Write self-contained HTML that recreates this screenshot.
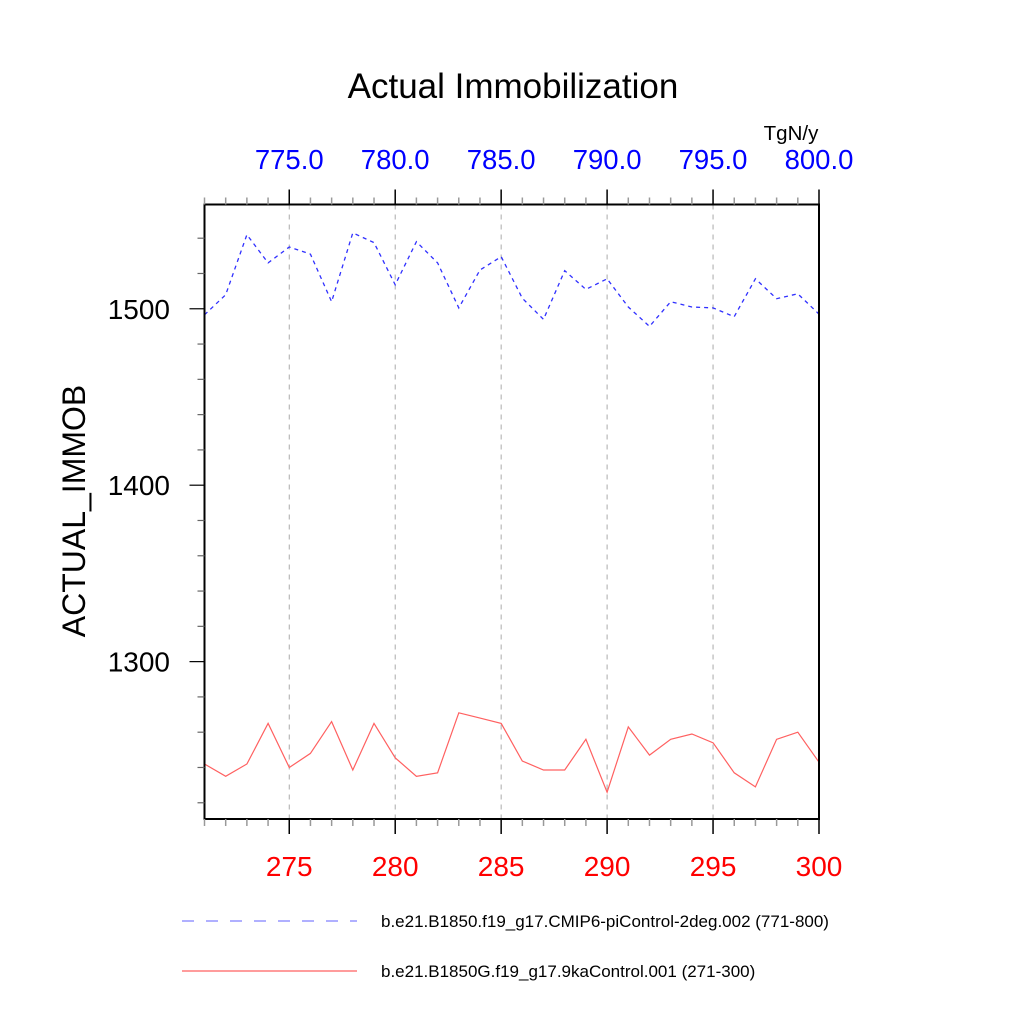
<!DOCTYPE html>
<html><head><meta charset="utf-8"><style>
html,body{margin:0;padding:0;background:#fff;}
svg{display:block;font-family:"Liberation Sans",sans-serif;}
</style></head><body>
<svg id="chart" width="1024" height="1024" viewBox="0 0 1024 1024">
<text x="513" y="98" text-anchor="middle" font-size="35">Actual Immobilization</text>
<text x="791" y="140" text-anchor="middle" font-size="20.5">TgN/y</text>
<text transform="translate(85,511) rotate(-90)" text-anchor="middle" font-size="32">ACTUAL_IMMOB</text>
<g id="grid"></g>
<g id="series"></g>
<rect x="204.5" y="204.5" width="614.5" height="614.5" fill="none" stroke="#000" stroke-width="2"/>
<g id="ticks"></g>
<g>
<line x1="182" y1="921" x2="357" y2="921" stroke="#8080ff" stroke-width="1.2" stroke-dasharray="12,12"/>
<text x="381" y="927" font-size="17">b.e21.B1850.f19_g17.CMIP6-piControl-2deg.002 (771-800)</text>
<line x1="182" y1="971" x2="357" y2="971" stroke="#ff6060" stroke-width="1.2"/>
<text x="381" y="977" font-size="17">b.e21.B1850G.f19_g17.9kaControl.001 (271-300)</text>
</g>
</svg>
<script>
const years = [271,272,273,274,275,276,277,278,279,280,281,282,283,284,285,286,287,288,289,290,291,292,293,294,295,296,297,298,299,300];
const blueValues = [1496.6,1508,1542,1526,1535,1531,1504,1543,1537.5,1513.6,1538,1526,1500.5,1522,1529.5,1506,1494,1521.6,1511,1517,1501,1490,1504,1501,1500.5,1495.5,1517,1505.7,1508.5,1497];
const redValues = [1242,1235,1242,1265,1240,1248,1266,1238.6,1265,1245.5,1235,1237,1271,1268,1265,1243.7,1238.6,1238.6,1256,1226,1263,1247,1256,1259,1254,1237,1229,1256,1260,1243];
const bottomTickLabels = ["275","280","285","290","295","300"];
const topTickLabels = ["775.0","780.0","785.0","790.0","795.0","800.0"];
const yTickLabels = ["1300","1400","1500"];

const NS="http://www.w3.org/2000/svg";
const x0=204.5,x1=819,y0=819,y1=204.5;
const xMin=271,xMax=300,yMin=1210.8,yMax=1559.1;
function xs(v){return x0+(v-xMin)/(xMax-xMin)*(x1-x0);}
function ys(v){return y0-(v-yMin)/(yMax-yMin)*(y0-y1);}
function mk(tag,attrs,parent){const e=document.createElementNS(NS,tag);for(const k in attrs)e.setAttribute(k,attrs[k]);parent.appendChild(e);return e;}
const grid=document.getElementById('grid'),ser=document.getElementById('series'),tk=document.getElementById('ticks');

bottomTickLabels.forEach((l,i)=>{
  const v=+l,x=xs(v);
  if(v<xMax){const g=mk('line',{x1:x,y1:y1,x2:x,y2:y0,stroke:'#aaa','stroke-width':1,'stroke-dasharray':'5,5'},grid);
  
  }
  const t=mk('text',{x:x,y:876,'text-anchor':'middle','font-size':28,fill:'#ff0000'},tk);t.textContent=l;
  
  
  const t2=mk('text',{x:x,y:169,'text-anchor':'middle','font-size':27.5,fill:'#0000ff'},tk);t2.textContent=topTickLabels[i];
  
  
});
for(let v=xMin;v<=xMax;v++){
  const x=xs(v),major=(v%5===0),len=major?15:7;
  const a=mk('line',{x1:x,y1:y0,x2:x,y2:y0+len,stroke:major?'#000':'#999','stroke-width':1.5},tk);
  
  
  const b=mk('line',{x1:x,y1:y1,x2:x,y2:y1-len,stroke:major?'#000':'#999','stroke-width':1.5},tk);
  
  
}
for(let v=1220;v<=1550;v+=20){
  const y=ys(v),major=(v%100===0),len=major?15:7;
  const a=mk('line',{x1:x0,y1:y,x2:x0-len,y2:y,stroke:major?'#000':'#666','stroke-width':1.2},tk);
  
  
}
yTickLabels.forEach(l=>{
  const t=mk('text',{x:170,y:ys(+l)+10,'text-anchor':'end','font-size':28},tk);t.textContent=l;
  
  
});
function pts(vals){return vals.map((v,i)=>xs(years[i]).toFixed(1)+','+ys(v).toFixed(1)).join(' ');}
const bl=mk('polyline',{points:pts(blueValues),fill:'none',stroke:'#3030ff','stroke-width':1.3,'stroke-dasharray':'4,4'},ser);


const rl=mk('polyline',{points:pts(redValues),fill:'none',stroke:'#ff6060','stroke-width':1.2},ser);


</script>
</body></html>
